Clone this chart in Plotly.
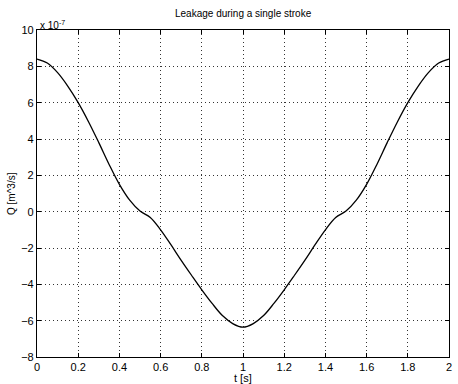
import plotly.graph_objects as go

# Leakage flow over one stroke, in units of 1e-7 m^3/s
t = [0.0, 0.05, 0.1, 0.15, 0.2, 0.25, 0.3, 0.35, 0.4, 0.45, 0.5,
     0.55, 0.6, 0.65, 0.7, 0.75, 0.8, 0.85, 0.9, 0.95, 1.0,
     1.05, 1.1, 1.15, 1.2, 1.25, 1.3, 1.35, 1.4, 1.45, 1.5,
     1.55, 1.6, 1.65, 1.7, 1.75, 1.8, 1.85, 1.9, 1.95, 2.0]
q = [8.4, 8.18, 7.65, 6.9, 6.0, 4.95, 3.8, 2.6, 1.5, 0.63, 0.03,
     -0.32, -1.0, -1.82, -2.68, -3.5, -4.3, -5.05, -5.72, -6.16, -6.36,
     -6.16, -5.72, -5.05, -4.3, -3.5, -2.68, -1.82, -1.0, -0.32, 0.03,
     0.63, 1.5, 2.6, 3.8, 4.95, 6.0, 6.9, 7.65, 8.18, 8.4]

x_ticks = [0, 0.2, 0.4, 0.6, 0.8, 1, 1.2, 1.4, 1.6, 1.8, 2]
x_tick_text = ["0", "0.2", "0.4", "0.6", "0.8", "1", "1.2", "1.4", "1.6", "1.8", "2"]
y_ticks = [-8, -6, -4, -2, 0, 2, 4, 6, 8, 10]

font_family = "Liberation Sans, Arial, sans-serif"

fig = go.Figure()
fig.add_trace(go.Scatter(
    x=t, y=q, mode="lines",
    line=dict(color="black", width=1.3, shape="spline", smoothing=1.0),
    showlegend=False,
))

axis_common = dict(
    showline=True, linecolor="black", linewidth=1.2, mirror="ticks",
    ticks="inside", ticklen=4, tickcolor="black", tickwidth=1,
    showgrid=True, gridcolor="#333", griddash="1px,3px", gridwidth=1,
    zeroline=False,
    tickfont=dict(family=font_family, size=11, color="black"),
)

fig.update_layout(
    width=458, height=384,
    margin=dict(l=37, r=6, t=30, b=27),
    paper_bgcolor="white", plot_bgcolor="white",
    xaxis=dict(range=[0, 2], tickvals=x_ticks, ticktext=x_tick_text,
               ticklabelstandoff=0, **axis_common),
    yaxis=dict(range=[-8, 10], tickvals=y_ticks, **axis_common),
    annotations=[
        dict(text="Leakage during a single stroke", x=0.5, y=1.0,
             xref="paper", yref="paper", xanchor="center", yanchor="bottom",
             yshift=9, showarrow=False,
             font=dict(family=font_family, size=10, color="black")),
        dict(text="x 10<sup>-7</sup>", x=0, y=1.0, xref="paper", yref="paper",
             xanchor="left", yanchor="bottom", xshift=1, yshift=-3, showarrow=False,
             font=dict(family=font_family, size=10, color="black")),
        dict(text="t [s]", x=0.5, y=0, xref="paper", yref="paper",
             xanchor="center", yanchor="top", yshift=-13, showarrow=False,
             font=dict(family=font_family, size=11, color="black")),
        dict(text="Q [m^3/s]", x=0, y=0.5, xref="paper", yref="paper",
             xanchor="right", yanchor="middle", xshift=-18, textangle=-90,
             showarrow=False,
             font=dict(family=font_family, size=10, color="black")),
    ],
)

fig.write_html("out.html")
